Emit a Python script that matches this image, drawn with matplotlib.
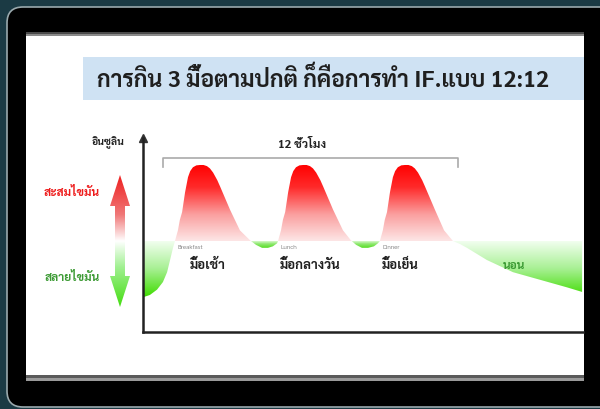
import numpy as np
import matplotlib
matplotlib.use('Agg')
import matplotlib.pyplot as plt
from matplotlib import font_manager as fm
from matplotlib.colors import LinearSegmentedColormap
from matplotlib.patches import FancyBboxPatch, Rectangle, Polygon, PathPatch
from matplotlib.path import Path

# ── Fuente tailandesa ─────────────────────────────────────────────────────────
installed = {f.name for f in fm.fontManager.ttflist}
THAI = next((n for n in ['Sarabun', 'Noto Sans Thai Looped', 'Noto Sans Thai',
                         'Bai Jamjuree', 'Anuphan'] if n in installed), 'DejaVu Sans')
plt.rcParams['font.family'] = [THAI, 'DejaVu Sans']

# ── Datos ─────────────────────────────────────────────────────────────────────
# horas desde el inicio del eje / nivel de insulina (0 = línea base, 100 = pico)
hours = [0, 0.28, 0.57, 0.81, 0.98, 1.10, 1.22, 1.30,
         1.42, 1.50, 1.59, 1.71, 1.83, 1.92, 2.03, 2.17, 2.32, 2.46, 2.60, 2.72,
         2.85, 3.02, 3.13, 3.54, 3.94, 4.35,
         4.59, 4.84, 5.08, 5.28, 5.45, 5.49,
         5.61, 5.69, 5.78, 5.90, 6.02, 6.11, 6.22, 6.36, 6.51, 6.65, 6.79, 6.91,
         7.04, 7.21, 7.32, 7.73, 8.13, 8.45,
         8.66, 8.90, 9.15, 9.39, 9.55, 9.63,
         9.75, 9.83, 9.92, 10.04, 10.16, 10.25, 10.36, 10.50, 10.65, 10.79, 10.93, 11.05,
         11.18, 11.35, 11.46, 11.87, 12.24, 12.60,
         12.89, 13.17, 13.98, 15.04, 16.14, 17.24, 17.85]
insulin = [-74, -71, -64, -54, -41, -25, -9, 0,
           14, 28, 38, 64, 84, 92, 97, 99.5, 100, 100, 98.5, 95.5,
           90, 80, 72, 41, 14, 1,
           -5, -9, -9, -7, -3, 0,
           14, 28, 38, 64, 84, 92, 97, 99.5, 100, 100, 98.5, 95.5,
           90, 80, 72, 41, 14, 1,
           -5, -9, -9, -7, -3, 0,
           14, 28, 38, 64, 84, 92, 97, 99.5, 100, 100, 98.5, 95.5,
           90, 80, 72, 41, 14, 0,
           -4, -9, -25, -41, -51, -61, -67]

meal_en = ['Breakfast', 'Lunch', 'Dinner']
meal_th = ['มื้อเช้า', 'มื้อกลางวัน', 'มื้อเย็น']
meal_en_x = [1.42, 5.57, 9.72]
meal_th_x = [2.64, 6.79, 10.45]
sleep_label = 'นอน'
sleep_x = 15.08
window_start, window_end = 0.81, 12.81
window_label = '12 ชั่วโมง'
title = 'การกิน 3 มื้อตามปกติ ก็คือการทำ IF.แบบ 12:12'

RED = '#ee1c1c'
GREEN = '#3d9b35'

fig = plt.figure(figsize=(6, 4.09), dpi=100, facecolor='#1b3a44')

# ── Marco (pantalla) en coordenadas de píxel ─────────────────────────────────
bg = fig.add_axes([0, 0, 1, 1])
bg.set_axis_off()
bg.add_patch(FancyBboxPatch((7, 7), 640, 400, boxstyle='round,pad=0,rounding_size=16',
                            fc='black', ec='#9aa9ad', lw=1.2))
bg.add_patch(Rectangle((26, 32), 558, 2, fc='#4a4a4a', lw=0))
bg.add_patch(Rectangle((26, 34), 558, 2, fc='#8a8a8a', lw=0))
bg.add_patch(Rectangle((26, 36), 558, 339, fc='white', lw=0))
bg.add_patch(Rectangle((26, 375), 558, 3, fc='#5a5a5a', lw=0))
bg.add_patch(Rectangle((26, 378), 558, 3, fc='#9a9a9a', lw=0))

# título
bg.add_patch(Rectangle((83, 57), 501, 43, fc='#cfe2f3', lw=0))
bg.text(97, 79, title, fontsize=16.5, fontweight='bold', color='#1f1f1f',
        ha='left', va='center')

# etiquetas laterales
bg.text(108, 143, 'อินซูลิน', fontsize=7.5, fontweight='bold', color='#222222',
        ha='center', va='center')
bg.text(72, 193, 'สะสมไขมัน', fontsize=8.5, fontweight='bold', color=RED,
        ha='center', va='center')
bg.text(72, 278, 'สลายไขมัน', fontsize=8.5, fontweight='bold', color=GREEN,
        ha='center', va='center')

# flecha doble con degradado
arrow = Polygon([(120, 175), (130, 206), (125, 206), (125, 276), (130, 276),
                 (120, 307), (110, 276), (115, 276), (115, 206), (110, 206)],
                closed=True, fc='none', ec='none')
bg.add_patch(arrow)
cmap_arrow = LinearSegmentedColormap.from_list(
    'arrow', [(0, '#ee2020'), (0.3, '#f07878'), (0.5, '#ffffff'),
              (0.7, '#a0f090'), (1, '#44dd11')])
im = bg.imshow(np.linspace(0, 1, 256).reshape(-1, 1), cmap=cmap_arrow,
               extent=[110, 130, 307, 175], origin='upper', aspect='auto', zorder=3)
im.set_clip_path(arrow)
bg.set_xlim(0, 600)
bg.set_ylim(409, 0)

# ── Gráfico de insulina ───────────────────────────────────────────────────────
ax = fig.add_axes([143 / 600, (409 - 332) / 409, 440.3 / 600, (332 - 138) / 409])
ax.patch.set_alpha(0)

x = np.array(hours)
y = np.array(insulin)


def gradient_fill(ax, where, colors, ylo, yhi):
    coll = ax.fill_between(x, y, 0, where=where, interpolate=True,
                           facecolor='none', edgecolor='none')
    path = Path.make_compound_path(*coll.get_paths())
    patch = PathPatch(path, facecolor='none', edgecolor='none')
    ax.add_patch(patch)
    cmap = LinearSegmentedColormap.from_list('g', colors)
    img = ax.imshow(np.linspace(0, 1, 256).reshape(-1, 1), cmap=cmap,
                    extent=[x[0], x[-1], ylo, yhi], origin='lower',
                    aspect='auto', zorder=1)
    img.set_clip_path(patch)


green_deep = [(0, '#3fdc00'), (0.5, '#a8f094'), (1, '#f4fff2')]
green_dip = [(0, '#55dd22'), (0.6, '#8fe870'), (1, '#d8f8cc')]

gradient_fill(ax, y >= 0, [(0, '#fde6e6'), (0.35, '#fa9e9e'), (0.7, '#ff2a2a'),
                           (1, '#ff0000')], 0, max(insulin))
gradient_fill(ax, (y <= 0) & (x <= 1.3), green_deep, min(insulin), 0)
gradient_fill(ax, (y <= 0) & (x >= 12.6), green_deep, min(insulin), 0)
gradient_fill(ax, (y <= 0) & (x > 1.3) & (x < 12.6), green_dip, -9, 0)

# corchete de 12 horas
ax.plot([window_start, window_start, window_end, window_end], [97, 109, 109, 97],
        color='#aaaaaa', lw=1.2)
ax.text(meal_th_x[1] - 0.33, 126, window_label, fontsize=8.5, fontweight='bold',
        color='#222222', ha='center', va='center')

for en, th, ex, tx in zip(meal_en, meal_th, meal_en_x, meal_th_x):
    ax.text(ex, -9, en, fontsize=4.5, color='#888888', ha='left', va='center')
    ax.text(tx, -32, th, fontsize=9.5, fontweight='bold', color='#1f1f1f',
            ha='center', va='center')
ax.text(sleep_x, -33, sleep_label, fontsize=8.5, fontweight='bold', color=GREEN,
        ha='center', va='center')

ax.set_xlim(0, 17.9)
ax.set_ylim(-119.7, 135.5)
ax.set_xticks([])
ax.set_yticks([])
for s in ['top', 'right']:
    ax.spines[s].set_visible(False)
for s in ['left', 'bottom']:
    ax.spines[s].set_color('#222222')
    ax.spines[s].set_linewidth(1.8)
ax.plot(0, 1, marker='^', ms=6, color='#333333', transform=ax.transAxes,
        clip_on=False)

fig.savefig('out.png', dpi=100, facecolor=fig.get_facecolor())
